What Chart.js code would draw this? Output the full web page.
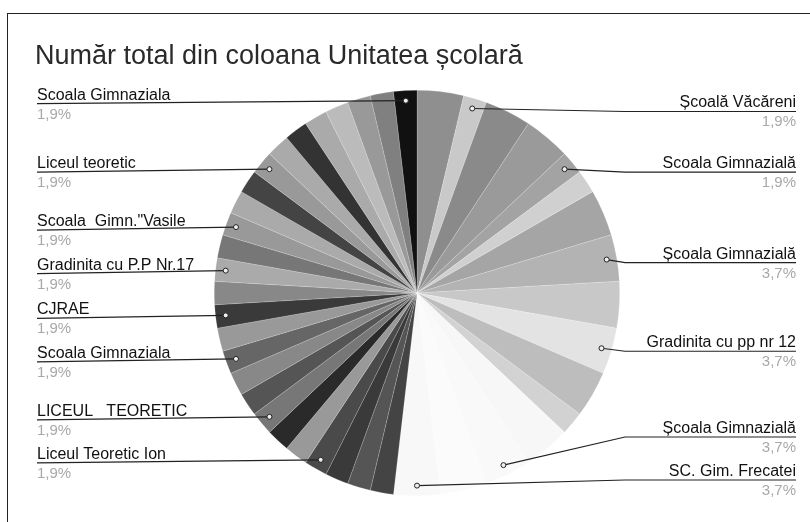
<!DOCTYPE html>
<html>
<head>
<meta charset="utf-8">
<script src="https://cdn.jsdelivr.net/npm/chart.js@4/dist/chart.umd.min.js"></script>
<style>
  html, body { margin: 0; padding: 0; background: #fff; }
  #wrap { position: relative; width: 810px; height: 522px; overflow: hidden; }
  #frame { position: absolute; left: 7px; top: 13px; width: 900px; height: 600px;
           border-left: 1.5px solid #222; border-top: 1.5px solid #222; }
  canvas { position: absolute; left: 0; top: 0; }
</style>
</head>
<body>
<div id="wrap">
  <div id="frame"></div>
  <canvas id="pie" width="810" height="522"></canvas>
</div>
<script>
const chartTitle = 'Număr total din coloana Unitatea școlară';

// slices clockwise from 12 o'clock; '' = slice without a visible label
const categories = [
    '', 'Școală Văcăreni', '', '', 'Scoala Gimnazială', '', '', 'Școala Gimnazială',
    '', 'Gradinita cu pp nr 12', '', '', '', 'Școala Gimnazială', '', 'SC. Gim. Frecatei',
    '', '', '', 'Liceul Teoretic Ion', '', '', 'LICEUL   TEORETIC', '', '',
    'Scoala Gimnaziala', '', 'CJRAE', '', 'Gradinita cu P.P Nr.17', '', 'Scoala  Gimn."Vasile',
    '', '', 'Liceul teoretic', '', '', '', '', '', '', 'Scoala Gimnaziala'
];
const counts = [
    2, 1, 2, 2, 1, 1, 2, 2, 2, 2, 2, 1, 2, 2, 2, 2,
    1, 1, 1, 1, 1, 1, 1, 1, 1, 1, 1, 1, 1, 1, 1, 1,
    1, 1, 1, 1, 1, 1, 1, 1, 1, 1
];
const sliceColors = [
    '#8f8f8f', '#c9c9c9', '#8a8a8a', '#9a9a9a', '#a3a3a3', '#d0d0d0', '#a5a5a5', '#b3b3b3',
    '#c8c8c8', '#e3e3e3', '#bdbdbd', '#d2d2d2', '#f7f7f7', '#f9f9f9', '#fbfbfb', '#f8f8f8',
    '#444444', '#555555', '#3a3a3a', '#4a4a4a', '#999999', '#2a2a2a', '#777777', '#555555',
    '#888888', '#666666', '#999999', '#3a3a3a', '#888888', '#aaaaaa', '#777777', '#999999',
    '#aaaaaa', '#444444', '#999999', '#aaaaaa', '#333333', '#aaaaaa', '#bbbbbb', '#999999',
    '#808080', '#111111'
];

const total = counts.reduce((a, b) => a + b, 0);

function formatPercent(v) {
    return (v / total * 100).toFixed(1).replace('.', ',') + '%';
}

// draws title, leader lines and the outside labels
const outsideLabels = {
    id: 'outsideLabels',
    afterDraw(chart) {
        const ctx = chart.ctx;
        const meta = chart.getDatasetMeta(0);
        const leftX = 37, rightX = 796, rightLineX = 625;
        const nameFont = '16px "Liberation Sans", Arial, sans-serif';
        const pctFont = '15px "Liberation Sans", Arial, sans-serif';

        ctx.save();
        ctx.fillStyle = '#2a2a2a';
        ctx.font = '27px "Liberation Sans", Arial, sans-serif';
        ctx.textAlign = 'left';
        ctx.textBaseline = 'alphabetic';
        ctx.fillText(chartTitle, 35, 64);

        const left = [], right = [];
        meta.data.forEach((arc, i) => {
            if (!categories[i]) return;
            const mid = (arc.startAngle + arc.endAngle) / 2;
            const r = arc.outerRadius * 0.95;
            const ax = arc.x + Math.cos(mid) * r;
            const ay = arc.y + Math.sin(mid) * r;
            const item = { i, ax, ay, y: ay + 3 };
            // clockwise angle from 12 o'clock decides the side
            if (mid + Math.PI / 2 < Math.PI + 0.2) right.push(item); else left.push(item);
        });

        // keep labels apart
        right.sort((a, b) => a.y - b.y);
        for (let k = right.length - 1; k >= 0; k--) {
            if (k === right.length - 1) right[k].y = Math.min(right[k].y, 480);
            else right[k].y = Math.min(right[k].y, right[k + 1].y - 43);
        }
        left.sort((a, b) => a.y - b.y);
        for (let k = 1; k < left.length; k++) {
            left[k].y = Math.max(left[k].y, left[k - 1].y + 42);
        }

        ctx.strokeStyle = '#222';
        ctx.lineWidth = 1.2;

        left.forEach(l => {
            ctx.beginPath();
            ctx.moveTo(leftX, l.y);
            ctx.lineTo(l.ax, l.ay);
            ctx.stroke();
            ctx.textAlign = 'left';
            ctx.fillStyle = '#111';
            ctx.font = nameFont;
            ctx.fillText(categories[l.i], leftX, l.y - 4);
            ctx.fillStyle = '#a8a8a8';
            ctx.font = pctFont;
            ctx.fillText(formatPercent(counts[l.i]), leftX, l.y + 15);
        });

        right.forEach(l => {
            const sx = Math.max(rightLineX, l.ax);
            ctx.beginPath();
            ctx.moveTo(l.ax, l.ay);
            ctx.lineTo(sx, l.y);
            ctx.lineTo(rightX, l.y);
            ctx.stroke();
            ctx.textAlign = 'right';
            ctx.fillStyle = '#111';
            ctx.font = nameFont;
            ctx.fillText(categories[l.i], rightX, l.y - 4);
            ctx.fillStyle = '#a8a8a8';
            ctx.font = pctFont;
            ctx.fillText(formatPercent(counts[l.i]), rightX, l.y + 15);
        });

        // small anchor dots
        left.concat(right).forEach(l => {
            ctx.beginPath();
            ctx.arc(l.ax, l.ay, 2.5, 0, Math.PI * 2);
            ctx.fillStyle = '#eee';
            ctx.fill();
            ctx.lineWidth = 1;
            ctx.stroke();
        });
        ctx.restore();
    }
};

new Chart(document.getElementById('pie'), {
    type: 'pie',
    data: {
        labels: categories,
        datasets: [{
            data: counts,
            backgroundColor: sliceColors,
            borderColor: 'rgba(255,255,255,0.35)',
            borderWidth: 0.5,
            hoverOffset: 0,
            offset: 0
        }]
    },
    options: {
        responsive: false,
        animation: false,
        layout: { padding: { left: 214, right: 190, top: 90, bottom: 26 } },
        plugins: {
            legend: { display: false },
            tooltip: { enabled: false },
            title: { display: false }
        }
    },
    plugins: [outsideLabels]
});
</script>
</body>
</html>
